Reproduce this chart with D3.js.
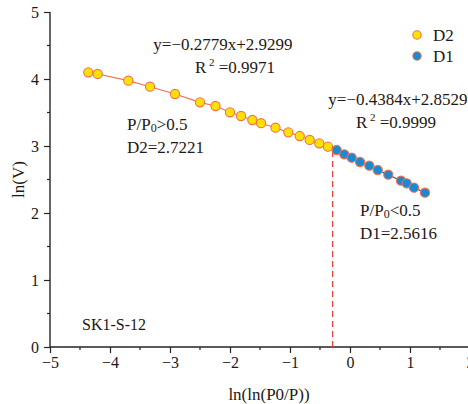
<!DOCTYPE html>
<html>
<head>
<meta charset="utf-8">
<script src="https://cdn.jsdelivr.net/npm/d3@7"></script>
<style>
  html, body { margin: 0; padding: 0; background: #fff; }
  svg { display: block; }
  text { font-family: "Liberation Serif", "Times New Roman", serif; fill: #231815; }
</style>
</head>
<body>
<svg id="chart" width="468" height="404"></svg>
<script>
// ln(ln(P0/P)) and ln(V) for the high-pressure (D2) and low-pressure (D1) regions
const d2X = [-4.362, -4.205, -3.695, -3.333, -2.917, -2.500, -2.242, -2.000, -1.817, -1.628, -1.483, -1.242, -1.028, -0.838, -0.672, -0.512, -0.367];
const d2Y = [4.100, 4.075, 3.975, 3.885, 3.776, 3.652, 3.597, 3.503, 3.448, 3.388, 3.340, 3.273, 3.204, 3.149, 3.090, 3.040, 2.990];
const d1X = [-0.222, -0.095, 0.028, 0.167, 0.322, 0.462, 0.638, 0.850, 0.945, 1.067, 1.250];
const d1Y = [2.940, 2.876, 2.825, 2.761, 2.706, 2.642, 2.572, 2.482, 2.443, 2.378, 2.303];
const seriesNames = ["D2", "D1"];
const xTicks = [-5, -4, -3, -2, -1, 0, 1, 2];
const yTicks = [0, 1, 2, 3, 4, 5];
const boundaryX = -0.29;   // split between P/P0 > 0.5 and P/P0 < 0.5
const boundaryTop = 2.93;

const svg = d3.select("#chart");
const x = d3.scaleLinear().domain([-5, 2]).range([50, 470]);
const y = d3.scaleLinear().domain([0, 5]).range([347, 12]);
const axisColor = "#2b2222";
const fmt = d => d < 0 ? "\u2212" + Math.abs(d) : String(d);

// x axis: major + minor ticks
const minorX = d3.range(-4.5, 2, 1);
const gx = svg.append("g").attr("transform", `translate(0,${y(0)})`);
gx.call(d3.axisBottom(x).tickValues(xTicks).tickSize(6).tickPadding(4).tickFormat(fmt));
minorX.forEach(v => gx.append("line").attr("x1", x(v)).attr("x2", x(v)).attr("y1", 0).attr("y2", 3).attr("stroke", axisColor).attr("stroke-width", 1.2));
gx.select(".domain").attr("d", `M${x(-5)},0H468`);

// y axis
const minorY = d3.range(0.5, 5, 1);
const gy = svg.append("g").attr("transform", `translate(${x(-5)},0)`);
gy.call(d3.axisLeft(y).tickValues(yTicks).tickSize(6).tickPadding(5).tickFormat(fmt));
minorY.forEach(v => gy.append("line").attr("x1", 0).attr("x2", -3).attr("y1", y(v)).attr("y2", y(v)).attr("stroke", axisColor).attr("stroke-width", 1.2));
gy.select(".domain").attr("d", `M0,${y(0)}V${y(5)}`);

[gx, gy].forEach(g => {
  g.select(".domain").attr("stroke", axisColor).attr("stroke-width", 1.4);
  g.selectAll(".tick line").attr("stroke", axisColor).attr("stroke-width", 1.2);
  g.selectAll(".tick text").style("font-family", "'Liberation Serif', serif").style("font-size", "16px").attr("fill", "#231815");
});

// axis titles
svg.append("text").attr("x", 269).attr("y", 400).attr("text-anchor", "middle")
  .style("font-size", "17px").text("ln(ln(P0/P))");
svg.append("text").attr("transform", `translate(24,${y(2.5)}) rotate(-90)`).attr("text-anchor", "middle")
  .style("font-size", "17px").text("ln(V)");

// boundary marker
svg.append("line")
  .attr("x1", x(boundaryX)).attr("x2", x(boundaryX))
  .attr("y1", y(0)).attr("y2", y(boundaryTop))
  .attr("stroke", "#f0433a").attr("stroke-width", 1.3).attr("stroke-dasharray", "6,4");

// connecting lines
const d2 = d2X.map((v, i) => [v, d2Y[i]]);
const d1 = d1X.map((v, i) => [v, d1Y[i]]);
const line = d3.line().x(d => x(d[0])).y(d => y(d[1]));
svg.append("path").datum(d2.concat([d1[0]])).attr("d", line)
  .attr("fill", "none").attr("stroke", "#f07050").attr("stroke-width", 1.2);
svg.append("path").datum(d1).attr("d", line)
  .attr("fill", "none").attr("stroke", "#3a4a5a").attr("stroke-width", 1.2);

// markers
const pointStroke = "#f07050";
const d2Fill = "#ffe100";
const d1Fill = "#1a8bd2";
svg.append("g").selectAll("circle").data(d2).join("circle")
  .attr("cx", d => x(d[0])).attr("cy", d => y(d[1])).attr("r", 4.6)
  .attr("fill", d2Fill).attr("stroke", pointStroke).attr("stroke-width", 1.1);
svg.append("g").selectAll("circle").data(d1).join("circle")
  .attr("cx", d => x(d[0])).attr("cy", d => y(d[1])).attr("r", 4.6)
  .attr("fill", d1Fill).attr("stroke", pointStroke).attr("stroke-width", 1.1);

// legend
const legend = svg.append("g");
[[d2Fill, seriesNames[0], 35], [d1Fill, seriesNames[1], 56]].forEach(([c, name, ly]) => {
  legend.append("circle").attr("cx", 417).attr("cy", ly).attr("r", 4.2)
    .attr("fill", c).attr("stroke", pointStroke).attr("stroke-width", 1.1);
  legend.append("text").attr("x", 433).attr("y", ly + 6).style("font-size", "17px").text(name);
});

// fit annotations
function eqLabel(cx, yy, eq, r2cx, r2) {
  svg.append("text").attr("x", cx).attr("y", yy).attr("text-anchor", "middle")
    .style("font-size", "17px").text(eq);
  const t = svg.append("text").attr("x", r2cx).attr("y", yy + 23).attr("text-anchor", "middle")
    .style("font-size", "17px");
  t.append("tspan").text("R");
  t.append("tspan").attr("dy", -7).style("font-size", "11px").text(" 2");
  t.append("tspan").attr("dy", 7).text(" =" + r2);
}
eqLabel(223, 50, "y=\u22120.2779x+2.9299", 235, "0.9971");
eqLabel(398, 105, "y=\u22120.4384x+2.8529", 396, "0.9999");

function regionLabel(lx, ly, cmp, dname, dval) {
  const t = svg.append("text").attr("x", lx).attr("y", ly).style("font-size", "17px");
  t.append("tspan").text("P/P");
  t.append("tspan").attr("dy", 2).style("font-size", "12px").text("0");
  t.append("tspan").attr("dy", -2).text(cmp + "0.5");
  svg.append("text").attr("x", lx).attr("y", ly + 23).style("font-size", "17px").text(dname + "=" + dval);
}
regionLabel(127, 130, ">", "D2", "2.7221");
regionLabel(360, 216, "<", "D1", "2.5616");

svg.append("text").attr("x", 82).attr("y", 330).style("font-size", "16px").text("SK1-S-12");
</script>
</body>
</html>
